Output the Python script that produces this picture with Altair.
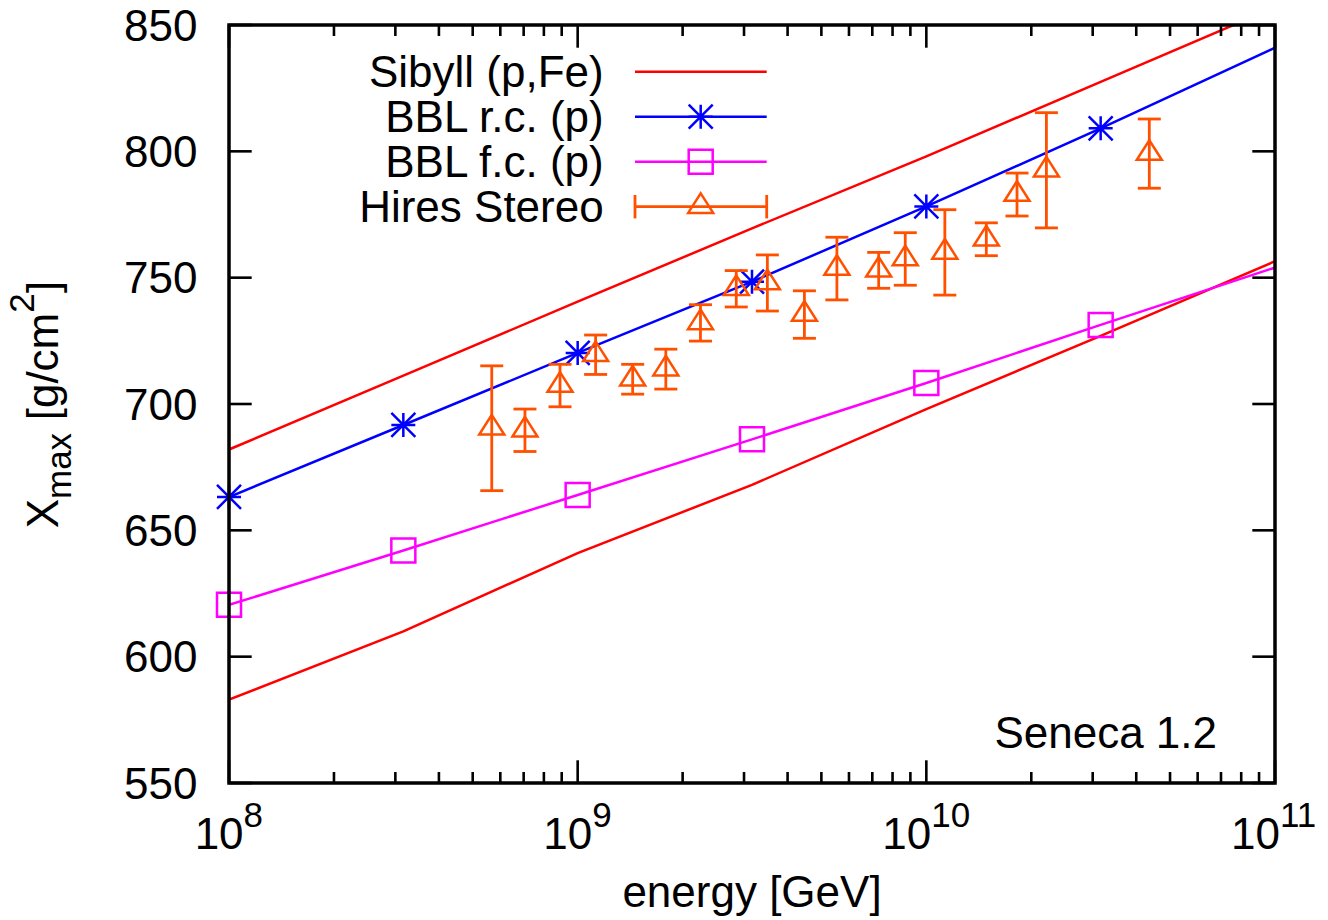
import altair as alt
import pandas as pd

# ---------------- data ----------------
energy_grid = [1e8, 316227766.0, 1e9, 3162277660.0, 1e10, 31622776600.0, 1e11]
sibyll_p = [682.0, 711.2, 740.5, 769.5, 798.0, 827.5, 857.0]
sibyll_fe = [583.0, 610.0, 641.0, 668.0, 698.0, 727.0, 756.5]
bbl_rc = [663.2, 691.7, 720.2, 748.4, 778.2, 809.1, 841.0]
bbl_fc = [620.5, 642.0, 664.0, 686.0, 708.3, 731.3, 754.0]
n_markers = 6  # markers drawn on the first six grid energies

hires_energy = [5.67e8, 7.06e8, 8.9e8, 1.126e9, 1.438e9, 1.79e9, 2.25e9, 2.85e9,
                3.5e9, 4.47e9, 5.54e9, 7.3e9, 8.7e9, 1.13e10, 1.486e10, 1.82e10,
                2.21e10, 4.36e10]
hires_xmax = [690.4, 689.6, 707.3, 719.5, 709.8, 713.8, 732.1, 745.6,
              747.9, 735.4, 753.6, 752.9, 757.4, 760.0, 765.2, 782.9,
              792.5, 799.1]
hires_err = [24.7, 8.4, 8.4, 7.8, 5.9, 7.9, 7.2, 7.2,
             11.1, 9.4, 12.4, 7.1, 10.4, 16.9, 6.5, 8.5,
             22.8, 13.7]

legend_labels = ["Sibyll (p,Fe)", "BBL r.c. (p)", "BBL f.c. (p)", "Hires Stereo"]

x_major = [1e8, 1e9, 1e10, 1e11]
x_major_exp = ["8", "9", "10", "11"]
x_minor = [2e8, 3e8, 4e8, 5e8, 6e8, 7e8, 8e8, 9e8,
           2e9, 3e9, 4e9, 5e9, 6e9, 7e9, 8e9, 9e9,
           2e10, 3e10, 4e10, 5e10, 6e10, 7e10, 8e10, 9e10]
y_major = [550, 600, 650, 700, 750, 800, 850]

# ---------------- style ----------------
W, H = 1046, 758
FONT = "Liberation Sans"
FS = 44
FS_SMALL = 35
RED, BLUE, MAGENTA, ORANGE = "#ff0000", "#0000ff", "#ff00ff", "#ff5000"
LW = 2.5
MAJ, MIN = 22.7, 11

ASTERISK = "M-1,0L1,0M0,-1L0,1M-1,-1L1,1M-1,1L1,-1"
TRIANGLE = "M0,-1.07L1,0.5L-1,0.5Z"
CAP = "M-1,0L1,0"

xs = alt.Scale(type="log", domain=[1e8, 1e11], nice=False)
ys = alt.Scale(domain=[550, 850], nice=False, zero=False)
yaxis = alt.Axis(values=y_major, labelFontSize=FS, labelFont=FONT, labelColor="black",
                 labelPadding=32, ticks=False, tickSize=0, domain=False, grid=False,
                 title=None, labelOffset=2)


def X(f):
    return alt.X(f"{f}:Q", scale=xs, axis=None)


def Y(f):
    return alt.Y(f"{f}:Q", scale=ys, axis=yaxis)


layers = []

# ---- plot border ----
one = pd.DataFrame({"a": [0]})

# ---- lines ----
def line_df(vals):
    return pd.DataFrame({"energy": energy_grid, "xmax": vals})

for vals, col in [(sibyll_p, RED), (sibyll_fe, RED), (bbl_rc, BLUE), (bbl_fc, MAGENTA)]:
    layers.append(alt.Chart(line_df(vals)).mark_line(color=col, strokeWidth=LW, clip=True)
                  .encode(x=X("energy"), y=Y("xmax")))

# ---- markers on model curves ----
layers.append(alt.Chart(line_df(bbl_rc).iloc[:n_markers]).mark_point(
    shape=ASTERISK, size=576, color=BLUE, filled=False, strokeWidth=LW, opacity=1)
    .encode(x=X("energy"), y=Y("xmax")))
layers.append(alt.Chart(line_df(bbl_fc).iloc[:n_markers]).mark_point(
    shape="square", size=576, color=MAGENTA, filled=False, strokeWidth=LW, opacity=1)
    .encode(x=X("energy"), y=Y("xmax")))

# ---- Hires Stereo with error bars ----
hires = pd.DataFrame({"energy": hires_energy, "xmax": hires_xmax, "err": hires_err})
hires_base = alt.Chart(hires).transform_calculate(
    lo="datum.xmax - datum.err", hi="datum.xmax + datum.err")
layers.append(hires_base.mark_rule(color=ORANGE, strokeWidth=2.8)
              .encode(x=X("energy"), y=Y("lo"), y2="hi:Q"))
for f in ["lo", "hi"]:
    layers.append(hires_base.mark_point(shape=CAP, size=529, color=ORANGE, filled=False,
                                        strokeWidth=2.8, opacity=1)
                  .encode(x=X("energy"), y=Y(f)))
layers.append(alt.Chart(hires).mark_point(shape=TRIANGLE, size=625, color=ORANGE,
                                          filled=False, strokeWidth=LW, opacity=1)
              .encode(x=X("energy"), y=Y("xmax")))

# ---- inward ticks on all four sides ----
xmaj = pd.DataFrame({"v": x_major})
xmin = pd.DataFrame({"v": x_minor})
ymaj = pd.DataFrame({"v": y_major})
tick_style = dict(color="black", strokeWidth=2.6)
for df, L in [(xmaj, MAJ), (xmin, MIN)]:
    layers.append(alt.Chart(df).mark_rule(**tick_style)
                  .encode(x=X("v"), y=alt.value(H), y2=alt.value(H - L)))
    layers.append(alt.Chart(df).mark_rule(**tick_style)
                  .encode(x=X("v"), y=alt.value(0), y2=alt.value(L)))
layers.append(alt.Chart(ymaj).mark_rule(**tick_style)
              .encode(y=Y("v"), x=alt.value(0), x2=alt.value(MAJ)))
layers.append(alt.Chart(ymaj).mark_rule(**tick_style)
              .encode(y=Y("v"), x=alt.value(W), x2=alt.value(W - MAJ)))

# border drawn on top of the data
layers.append(alt.Chart(one).mark_rect(fill=None, filled=False, stroke="black",
                                       strokeWidth=3.5)
              .encode(x=alt.value(0), x2=alt.value(W), y=alt.value(0), y2=alt.value(H)))

# ---- x tick labels 10^n ----
xlab = pd.DataFrame({"v": x_major, "base": ["10"] * 4, "exp": x_major_exp})
for ndig, dx in [(1, 14.6), (2, 4.9)]:
    sub = alt.Chart(xlab).transform_filter(f"length(datum.exp) == {ndig}")
    layers.append(sub.mark_text(font=FONT, fontSize=FS, color="black", align="right",
                                baseline="alphabetic", dx=dx)
                  .encode(x=X("v"), y=alt.value(H + 65.5), text="base:N"))
    layers.append(sub.mark_text(font=FONT, fontSize=FS_SMALL, color="black", align="left",
                                baseline="alphabetic", dx=dx)
                  .encode(x=X("v"), y=alt.value(H + 44), text="exp:N"))


def label(txt, x, y, size=FS, align="left", angle=0, color="black"):
    return alt.Chart(pd.DataFrame({"t": [txt]})).mark_text(
        font=FONT, fontSize=size, color=color, align=align, baseline="alphabetic",
        angle=angle).encode(x=alt.value(x), y=alt.value(y), text="t:N")


# ---- axis titles ----
layers.append(label("energy [GeV]", W / 2, H + 124, align="center"))
TX = -170.7
layers.append(label("X", TX, 503.3, angle=270))
layers.append(label("max", TX + 13, 474.0, size=FS_SMALL, angle=270))
layers.append(label("[g/cm", TX, 395.3, angle=270))
layers.append(label("2", TX - 24, 287.7, size=FS_SMALL, angle=270))
layers.append(label("]", TX, 268.1, angle=270))

# ---- annotation ----
layers.append(label("Seneca 1.2", 988, 723.3, align="right"))

# ---- legend ----
rows = [46.7, 91.7, 136.7, 181.7]
LX0, LX1, LXM, LTX = 406, 537.7, 471.7, 374.7
colors = [RED, BLUE, MAGENTA, ORANGE]
for i, (lab, col) in enumerate(zip(legend_labels, colors)):
    ry = rows[i]
    layers.append(label(lab, LTX, ry + 15.7, align="right"))
    sw = 2.8 if i == 3 else LW
    layers.append(alt.Chart(one).mark_rule(color=col, strokeWidth=sw)
                  .encode(x=alt.value(LX0), x2=alt.value(LX1), y=alt.value(ry)))
    if i == 1:
        layers.append(alt.Chart(one).mark_point(shape=ASTERISK, size=576, color=col,
                                                filled=False, strokeWidth=LW, opacity=1)
                      .encode(x=alt.value(LXM), y=alt.value(ry)))
    if i == 2:
        layers.append(alt.Chart(one).mark_point(shape="square", size=576, color=col,
                                                filled=False, strokeWidth=LW, opacity=1)
                      .encode(x=alt.value(LXM), y=alt.value(ry)))
    if i == 3:
        for ex in [LX0, LX1]:
            layers.append(alt.Chart(one).mark_rule(color=col, strokeWidth=2.8)
                          .encode(x=alt.value(ex), y=alt.value(ry - 11.7),
                                  y2=alt.value(ry + 11.7)))
        layers.append(alt.Chart(one).mark_point(shape=TRIANGLE, size=625, color=col,
                                                filled=False, strokeWidth=LW, opacity=1)
                      .encode(x=alt.value(LXM), y=alt.value(ry)))

chart = alt.layer(*layers).properties(
    width=W, height=H,
    padding={"left": 221, "top": 17, "right": 40, "bottom": 137},
    autosize=alt.AutoSizeParams(type="none"),
    background="white",
).configure_view(stroke=None)

chart.save("out.html", embed_options={"renderer": "svg", "actions": False})
